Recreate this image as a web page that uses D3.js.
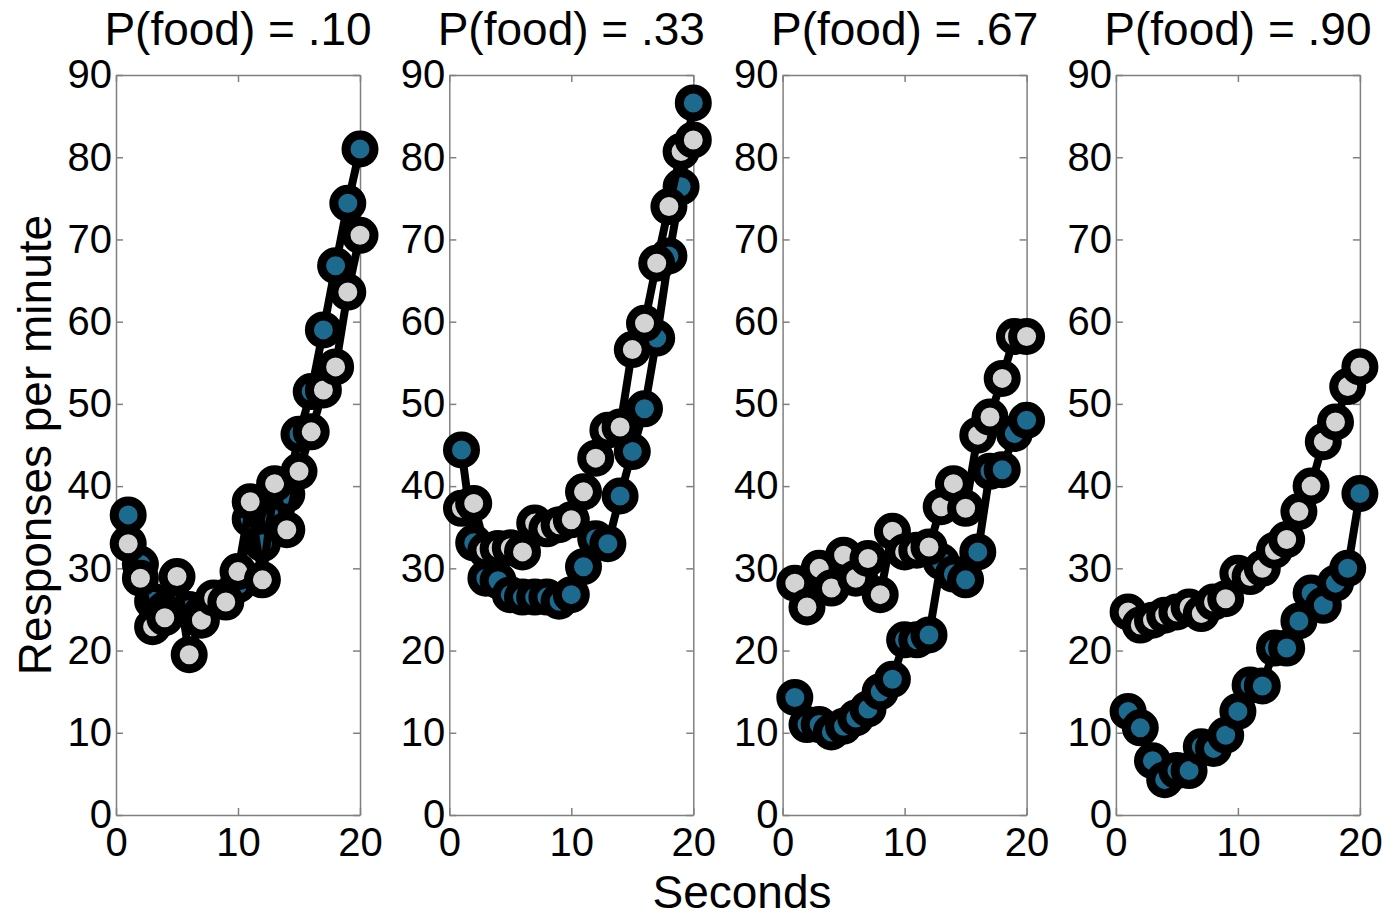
<!DOCTYPE html>
<html>
<head>
<meta charset="utf-8">
<script src="https://d3js.org/d3.v7.min.js"></script>
<style>
  body { margin: 0; background: #fff; }
  text { font-family: "Liberation Sans", Arial, sans-serif; fill: #000; }
</style>
</head>
<body>
<div id="chart"></div>
<script>
const seconds = [1, 2, 3, 4, 5, 6, 7, 8, 9, 10, 11, 12, 13, 14, 15, 16, 17, 18, 19, 20];
const panelTitles = ["P(food) = .10", "P(food) = .33", "P(food) = .67", "P(food) = .90"];
const xTicks = [0, 10, 20];
const yTicks = [0, 10, 20, 30, 40, 50, 60, 70, 80, 90];

// blue series, one array per panel
const blue10 = [36.5, 30.5, 26, 25, 25.5, 25, 24.5, 26, 26.5, 28, 36, 33, 36, 39, 46.3, 51.5, 59, 66.8, 74.4, 81];
const blue33 = [44.4, 33.1, 28.8, 28.5, 26.8, 26.5, 26.5, 26.5, 26, 26.8, 30.2, 33.6, 33, 38.8, 44.2, 49.4, 58, 68, 76.4, 86.6];
const blue67 = [14.3, 11, 11, 10.1, 10.8, 11.8, 12.9, 15, 16.5, 21.3, 21.3, 21.9, 30.8, 29.3, 28.6, 32, 41.8, 42, 46.4, 48];
const blue90 = [12.6, 10.6, 6.6, 4.3, 5.4, 5.4, 8.3, 8.1, 9.7, 12.6, 15.8, 15.7, 20.3, 20.3, 23.6, 27, 25.5, 28.2, 30, 39.1];

// grey series
const grey10 = [33.0, 28.8, 22.9, 24.0, 29.0, 19.5, 23.7, 26.4, 25.9, 29.6, 38.1, 28.6, 40.3, 34.7, 41.8, 46.6, 51.7, 54.5, 63.6, 70.5];
const grey33 = [37.3, 37.9, 32.2, 32.4, 32.5, 32, 35.5, 34.8, 35.3, 35.9, 39.3, 43.4, 46.8, 47.2, 56.6, 59.8, 67.1, 74, 80.7, 82.1];
const grey67 = [28.2, 25.3, 30, 27.6, 31.6, 28.8, 31.2, 26.8, 34.5, 32, 32.2, 32.6, 37.5, 40.3, 37.3, 46.2, 48.4, 53.1, 58.2, 58.2];
const grey90 = [24.7, 23.1, 23.7, 24.3, 24.7, 25.3, 24.5, 25.9, 26.3, 29.4, 29, 30, 32.2, 33.5, 36.9, 40, 45.4, 47.8, 52.1, 54.5];

const blueSeries = [blue10, blue33, blue67, blue90];
const greySeries = [grey10, grey33, grey67, grey90];

const W = 1396, H = 920;
const margin = { top: 75, left: 116 };
const width = 244;
const height = 740;
const step = 333.3;

const x = d3.scaleLinear().domain([0, 20]).range([0, width]);
const y = d3.scaleLinear().domain([0, 90]).range([height, 0]);

const svg = d3.select("#chart").append("svg")
    .attr("width", W)
    .attr("height", H);

svg.append("rect").attr("width", W).attr("height", H).attr("fill", "#fff");

const line = d3.line()
    .x((d, i) => x(seconds[i]))
    .y(d => y(d));

function styleAxis(g) {
    g.select(".domain").attr("stroke", "#808080").attr("stroke-width", 1.5);
    g.selectAll(".tick line").attr("stroke", "#808080").attr("stroke-width", 1.5);
    g.selectAll("text").attr("font-size", 40).attr("fill", "#000")
        .attr("font-family", "'Liberation Sans', Arial, sans-serif");
}

panelTitles.forEach((title, p) => {
    const g = svg.append("g")
        .attr("transform", "translate(" + (margin.left + p * step) + "," + margin.top + ")");

    // box with inward ticks on all four sides
    g.append("g")
        .attr("transform", "translate(0," + height + ")")
        .call(d3.axisBottom(x).tickValues(xTicks).tickSizeInner(-7).tickSizeOuter(0).tickPadding(13))
        .call(styleAxis);
    g.append("g")
        .call(d3.axisTop(x).tickValues(xTicks).tickSizeInner(-7).tickSizeOuter(0).tickFormat(""))
        .call(styleAxis);
    g.append("g")
        .call(d3.axisLeft(y).tickValues(yTicks).tickSizeInner(-7).tickSizeOuter(0).tickPadding(4))
        .call(styleAxis);
    g.append("g")
        .attr("transform", "translate(" + width + ",0)")
        .call(d3.axisRight(y).tickValues(yTicks).tickSizeInner(-7).tickSizeOuter(0).tickFormat(""))
        .call(styleAxis);

    g.append("text")
        .attr("x", width / 2)
        .attr("y", -30)
        .attr("text-anchor", "middle")
        .attr("font-size", 46)
        .text(title);

    const series = [
        { values: blueSeries[p], fill: "#1c6a8e" },
        { values: greySeries[p], fill: "#d3d3d3" }
    ];

    series.forEach(s => {
        g.append("path")
            .datum(s.values)
            .attr("d", line)
            .attr("fill", "none")
            .attr("stroke", "#000")
            .attr("stroke-width", 8)
            .attr("stroke-linejoin", "round");

        g.selectAll(null)
            .data(s.values)
            .join("circle")
            .attr("cx", (d, i) => x(seconds[i]))
            .attr("cy", d => y(d))
            .attr("r", 14)
            .attr("fill", s.fill)
            .attr("stroke", "#000")
            .attr("stroke-width", 9);
    });
});

// shared labels
svg.append("text")
    .attr("transform", "translate(51," + (margin.top + height / 2) + ") rotate(-90)")
    .attr("text-anchor", "middle")
    .attr("font-size", 46)
    .text("Responses per minute");

svg.append("text")
    .attr("x", 742)
    .attr("y", 908)
    .attr("text-anchor", "middle")
    .attr("font-size", 46)
    .text("Seconds");
</script>
</body>
</html>
